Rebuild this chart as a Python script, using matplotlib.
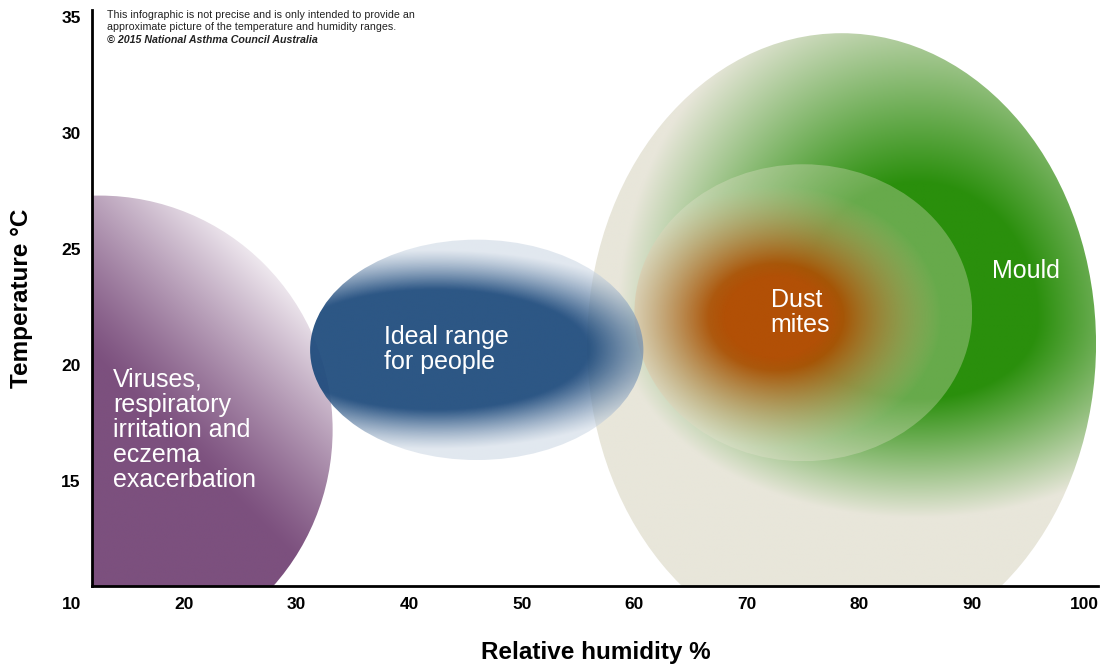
import numpy as np
import matplotlib
matplotlib.use("Agg")
from matplotlib import pyplot as plt
from matplotlib.patches import Ellipse

plt.rcParams['font.family'] = ['Liberation Sans', 'DejaVu Sans']

# zones: humidity (x) and temperature (y) ranges
zones = ["Viruses,\nrespiratory\nirritation and\neczema\nexacerbation",
         "Ideal range\nfor people", "Mould", "Dust\nmites"]
hum_center = [12.5, 46.0, 78.4, 75.0]
hum_half = [20.7, 14.8, 22.6, 15.0]
temp_center = [17.2, 20.65, 20.9, 22.25]
temp_half = [10.1, 4.75, 13.4, 6.4]
label_pos = [(13.7, 17.2), (37.75, 20.65), (91.75, 24.05), (72.1, 22.24)]

xticks = [10, 20, 30, 40, 50, 60, 70, 80, 90, 100]
yticks = [15, 20, 25, 30, 35]
X0, X1 = 10, 101.2
Y0, Y1 = 10.47, 35.3
SPINE_X = 11.8


def mix(c1, c2, t):
    c1 = np.array(c1) / 255.0
    c2 = np.array(c2) / 255.0
    t = t[..., None]
    return c1 * (1 - t) + c2 * t


def purple_fill(U, V):
    t = np.clip((0.7 * U + 0.7 * V - 0.2) / 0.8, 0, 1) ** 1.2
    rgb = mix((124, 80, 126), (240, 234, 240), t)
    return np.dstack([rgb, np.ones(U.shape)])


def blue_fill(U, V):
    r = np.sqrt(((U + 0.25) / 1.35) ** 2 + (V / 0.8) ** 2)
    s = np.clip((r - 0.68) / 0.45, 0, 1) ** 1.1
    rgb = mix((29, 74, 124), (200, 212, 226), s)
    a = 0.93 - 0.4 * s
    return np.dstack([rgb, a])


def mould_fill(U, V):
    du = (U - 0.3) / 1.18
    dv = np.where(V > 0.08, (V - 0.08) / 1.1, (V - 0.08) / 0.64)
    d = np.sqrt(du ** 2 + dv ** 2)
    g = np.clip((1 - d) / 0.6, 0, 1)
    rgb = mix((232, 230, 218), (42, 143, 12), g)
    return np.dstack([rgb, np.ones(U.shape)])


def dust_fill(U, V):
    r = np.sqrt(((U + 0.16) / 1.0) ** 2 + ((V + 0.03) / 0.9) ** 2)
    w = np.clip(1 - r / 0.98, 0, 1) ** 0.9
    rgb = mix((236, 230, 212), (178, 80, 6), np.clip(w * 1.6, 0, 1))
    a = 0.32 + 0.68 * np.clip(w * 1.4, 0, 1)
    return np.dstack([rgb, a])


def draw_zone(ax, i, fill, z, xlo=None):
    cx, cy, rx, ry = hum_center[i], temp_center[i], hum_half[i], temp_half[i]
    xlo = cx - rx if xlo is None else xlo
    ext = (xlo, cx + rx, max(cy - ry, Y0), min(cy + ry, Y1))
    xs = np.linspace(ext[0], ext[1], 500)
    ys = np.linspace(ext[2], ext[3], 500)
    X, Y = np.meshgrid(xs, ys)
    img = fill((X - cx) / rx, (Y - cy) / ry)
    im = ax.imshow(img, extent=ext, origin='lower', aspect='auto',
                   interpolation='bilinear', zorder=z)
    clip = Ellipse((cx, cy), 2 * rx, 2 * ry, transform=ax.transData,
                   facecolor='none', edgecolor='none')
    ax.add_patch(clip)
    im.set_clip_path(clip)


fig = plt.figure(figsize=(11.07, 6.66), dpi=100)
ax = fig.add_axes([71.4 / 1107, 80 / 666, (1098.3 - 71.4) / 1107, 576 / 666])

# spine setup first: moving a spine resets the tick labels
ax.spines['top'].set_visible(False)
ax.spines['right'].set_visible(False)
ax.spines['left'].set_position(('data', SPINE_X))
ax.spines['bottom'].set_bounds(SPINE_X, X1)
ax.spines['left'].set_linewidth(2)
ax.spines['bottom'].set_linewidth(2)
ax.spines['left'].set_zorder(7)
ax.spines['bottom'].set_zorder(7)
ax.set_facecolor('none')

draw_zone(ax, 0, purple_fill, 1, xlo=SPINE_X)
draw_zone(ax, 2, mould_fill, 2)
draw_zone(ax, 3, dust_fill, 3)
draw_zone(ax, 1, blue_fill, 4)

for name, (lx, ly) in zip(zones, label_pos):
    ax.text(lx, ly, name, color='white', fontsize=18, ha='left', va='center',
            linespacing=1.05, zorder=6)

ax.set_xlim(X0, X1)
ax.set_ylim(Y0, Y1)
ax.set_xticks(xticks)
ax.set_xticklabels([str(v) for v in xticks], fontweight='bold', fontsize=12.5)
ax.set_yticks(yticks)
ax.set_yticklabels([str(v) for v in yticks], fontweight='bold', fontsize=12.5)
ax.tick_params(length=0, pad=8)

fig.text(596 / 1107, 1 - 652 / 666, "Relative humidity %", ha='center', va='center',
         fontsize=17.5, fontweight='bold')
fig.text(22 / 1107, 1 - 298 / 666, "Temperature °C", ha='center', va='center',
         rotation=90, fontsize=17.5, fontweight='bold')

fig.text(107 / 1107, 1 - 21 / 666,
         "This infographic is not precise and is only intended to provide an\n"
         "approximate picture of the temperature and humidity ranges.",
         ha='left', va='center', fontsize=7.7, linespacing=1.35, color='#222222')
fig.text(107 / 1107, 1 - 40 / 666, "© 2015 National Asthma Council Australia",
         ha='left', va='center', fontsize=7.7, fontweight='bold', style='italic',
         color='#222222')

fig.savefig('out.png', dpi=100)
